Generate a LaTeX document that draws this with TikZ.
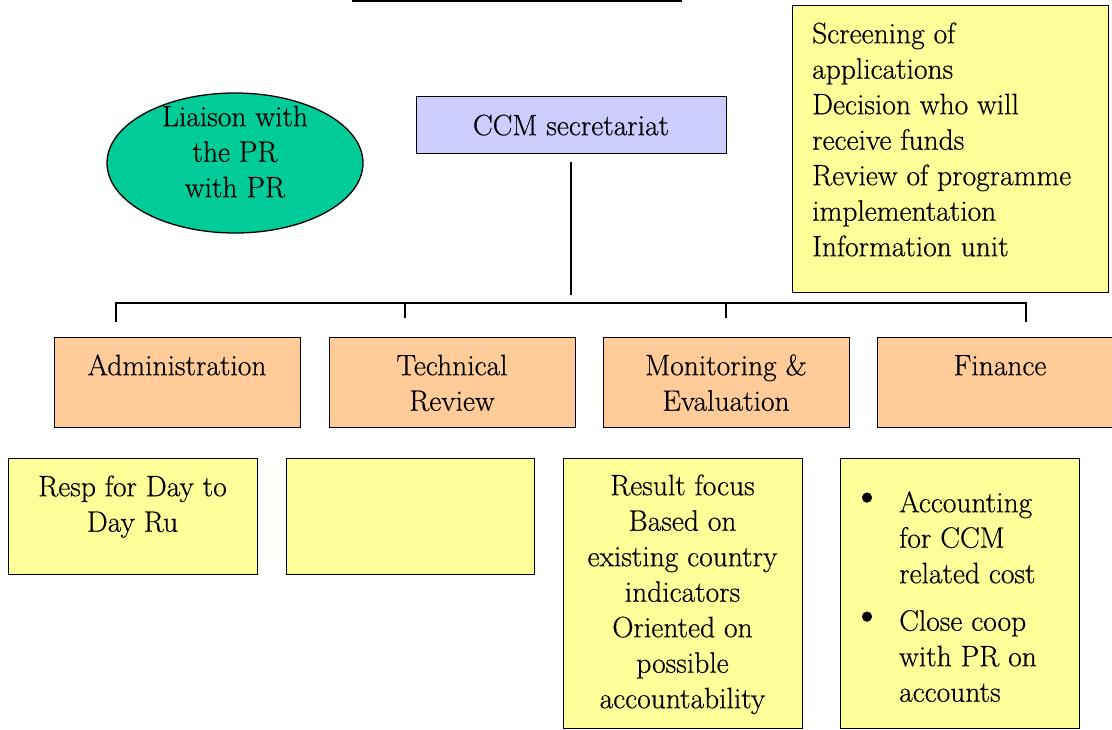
\documentclass[tikz,border=0pt]{standalone}
\usepackage{fontspec}
\setmainfont{Latin Modern Roman}[FakeBold=0.5]
\usetikzlibrary{shapes.geometric}
\definecolor{cteal}{HTML}{00CC99}
\definecolor{clav}{HTML}{CCCCFF}
\definecolor{cpeach}{HTML}{FFCC99}
\definecolor{cyel}{HTML}{FFFF99}
\begin{document}
\begin{tikzpicture}[x=1pt,y=-1pt,
  box/.style={draw=black, line width=1.3pt, rectangle, inner sep=0pt, anchor=north west},
  peachbox/.style={box, fill=cpeach, minimum width=246pt, minimum height=90pt},
  yelbox/.style={box, fill=cyel},
  txt/.style={inner sep=0pt, align=center, anchor=north, font=\fontsize{29.5}{35.5}\selectfont},
  ltxt/.style={txt, align=left, anchor=north west},
  bullet/.style={inner sep=0pt, font=\fontsize{44}{50}\selectfont},
  conn/.style={draw=black, line width=1.3pt}]
\useasboundingbox (0,0) rectangle (1112,729);
\clip (0,0) rectangle (1112,729);

% top rule
\coordinate (r1) at (352,1);
\coordinate (r2) at (682,1);
\draw[line width=2.6pt] (r1) -- (r2);

% ellipse
\node[ellipse, draw=black, line width=1.3pt, fill=cteal, minimum width=256pt, minimum height=140pt, inner sep=0pt] (liaison) at (235,163) {};
\node[txt] (liaisont) at (235,101.15) {\strut Liaison with\\the PR\\with PR};

% CCM secretariat
\node[box, fill=clav, minimum width=310pt, minimum height=57pt] (ccm) at (416,96) {};
\node[txt] (ccmt) at (571,110.15) {\strut CCM secretariat};

% top right box
\node[yelbox, minimum width=316pt, minimum height=287pt] (tasks) at (792,5) {};
\node[ltxt] (taskst) at (812,18.15) {\strut Screening of\\applications\\Decision who will\\receive funds\\Review of programme\\implementation\\Information unit};

% connectors
\coordinate (v1) at (571,162);
\coordinate (v2) at (571,295);
\draw[conn] (v1) -- (v2);
\coordinate (b1) at (116,322);
\coordinate (b2) at (405,318);
\coordinate (b3) at (726,318);
\coordinate (b4) at (1026,322);
\draw[conn] (b1) |- (b4 |- 0,303) -- (b4);
\draw[conn] (b2) -- (b2 |- 0,303);
\draw[conn] (b3) -- (b3 |- 0,303);

% second level
\node[peachbox] (adm) at (54,337) {};
\node[txt] (admt) at (177,350.15) {\strut Administration};
\node[peachbox] (tech) at (329,337) {};
\node[txt] (techt) at (452,350.15) {\strut Technical\\Review};
\node[peachbox] (mon) at (603,337) {};
\node[txt] (mont) at (726,350.15) {\strut Monitoring \&\\Evaluation};
\node[peachbox] (fin) at (877,337) {};
\node[txt] (fint) at (1000,350.15) {\strut Finance};

% third level
\node[yelbox, minimum width=249pt, minimum height=116pt] (resp) at (8,458) {};
\node[txt] (respt) at (132.5,471.15) {\strut Resp for Day to\\Day Ru};
\node[yelbox, minimum width=248pt, minimum height=116pt] (empty) at (286,458) {};
\node[yelbox, minimum width=239pt, minimum height=270pt] (res) at (563,458) {};
\node[txt] (rest) at (682.5,470.15) {\strut Result focus\\Based on\\existing country\\indicators\\Oriented on\\possible\\accountability};
\node[yelbox, minimum width=239pt, minimum height=270pt] (acc) at (840,458) {};
\node[ltxt] (acct) at (899,487.15) {\strut Accounting\\for CCM\\related cost\\[12pt]Close coop\\with PR on\\accounts};
\node[bullet] (bul1) at (867,501) {•};
\node[bullet] (bul2) at (867,620) {•};
\end{tikzpicture}
\end{document}
